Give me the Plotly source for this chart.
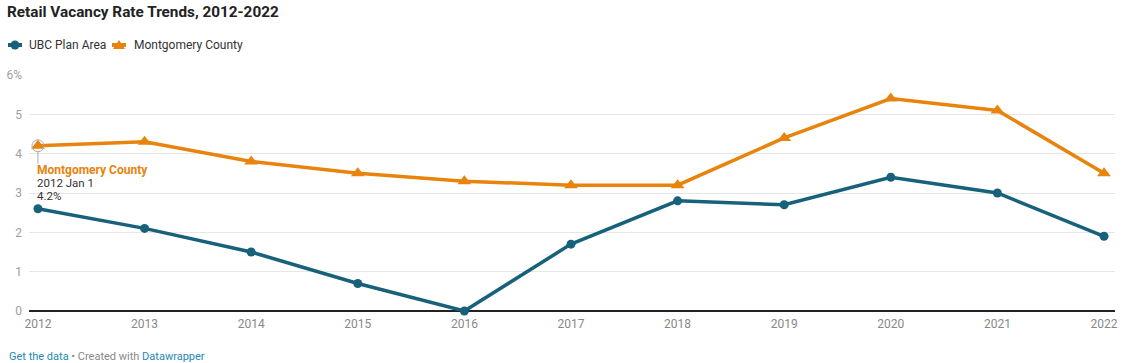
import plotly.graph_objects as go

years = [2012, 2013, 2014, 2015, 2016, 2017, 2018, 2019, 2020, 2021, 2022]
ubc = [2.6, 2.1, 1.5, 0.7, 0.0, 1.7, 2.8, 2.7, 3.4, 3.0, 1.9]
montgomery = [4.2, 4.3, 3.8, 3.5, 3.3, 3.2, 3.2, 4.4, 5.4, 5.1, 3.5]
y_ticks = [0, 1, 2, 3, 4, 5, 6]
y_ticktext = ["0", "1", "2", "3", "4", "5", "6%"]
series_names = ["UBC Plan Area", "Montgomery County"]

TEAL = "#18617a"
ORANGE = "#e8830c"
FONT = "Roboto"

W, H = 1127, 363
ML, MR, MT, MB = 29, 12, 75, 52
PW, PH = W - ML - MR, H - MT - MB


def px_x(px):
    return (px - ML) / PW


def px_y(py):
    return (H - MB - py) / PH


fig = go.Figure()
fig.add_trace(go.Scatter(
    x=years, y=ubc, name=series_names[0], mode="lines+markers",
    line=dict(color=TEAL, width=3.5), marker=dict(symbol="circle", size=9, color=TEAL),
    cliponaxis=False, showlegend=False,
))
fig.add_trace(go.Scatter(
    x=years, y=montgomery, name=series_names[1], mode="lines+markers",
    line=dict(color=ORANGE, width=3.5), marker=dict(symbol="triangle-up", size=12, color=ORANGE),
    cliponaxis=False, showlegend=False,
))

# highlight annotation on first Montgomery point
fig.add_trace(go.Scatter(
    x=[years[0]], y=[montgomery[0]], mode="markers", showlegend=False, hoverinfo="skip",
    marker=dict(symbol="circle-open", size=12, color="#aaaaaa", line=dict(width=1)),
    cliponaxis=False,
))
fig.add_shape(type="line", xref="x", yref="y", x0=years[0], x1=years[0],
              y0=montgomery[0] - 0.15, y1=montgomery[0] - 0.45,
              line=dict(color="#aaaaaa", width=1))
label_lines = [
    (f"<b>{series_names[1]}</b>", ORANGE, 12, -24),
    (f"{years[0]} Jan 1", "#333333", 11.5, -37),
    (f"{montgomery[0]}%", "#333333", 11.5, -50),
]
for txt, col, sz, ys in label_lines:
    fig.add_annotation(
        x=years[0], y=montgomery[0], xref="x", yref="y", xanchor="left", yanchor="middle",
        xshift=-3, yshift=ys, showarrow=False, align="left", text=txt,
        font=dict(family=FONT, size=sz, color=col),
    )

# custom legend (short line + marker glyph, then label)
legend_items = [
    (series_names[0], TEAL, "circle", 15, 27),
    (series_names[1], ORANGE, "triangle", 119, 132),
]
LEG_Y = 45
for name, col, sym, cx, tx in legend_items:
    ax, ay = px_x(cx), px_y(LEG_Y)
    fig.add_shape(type="line", xref="paper", yref="paper", xsizemode="pixel", ysizemode="pixel",
                  xanchor=ax, yanchor=ay, x0=-7, x1=7, y0=0, y1=0,
                  line=dict(color=col, width=4))
    if sym == "circle":
        fig.add_shape(type="circle", xref="paper", yref="paper", xsizemode="pixel", ysizemode="pixel",
                      xanchor=ax, yanchor=ay, x0=-4.5, x1=4.5, y0=-4.5, y1=4.5,
                      fillcolor=col, line=dict(color=col, width=0))
    else:
        fig.add_shape(type="path", xref="paper", yref="paper", xsizemode="pixel", ysizemode="pixel",
                      xanchor=ax, yanchor=ay, path="M -6,-4 L 6,-4 L 0,5 Z",
                      fillcolor=col, line=dict(color=col, width=0))
    fig.add_annotation(
        xref="paper", yref="paper", x=px_x(tx), y=px_y(LEG_Y), xanchor="left", yanchor="middle",
        showarrow=False, text=name, font=dict(family=FONT, size=12, color="#333333"),
    )

fig.add_annotation(
    xref="paper", yref="paper", x=px_x(7), y=px_y(356), xanchor="left", yanchor="middle",
    showarrow=False,
    text="<span style='color:#1d8ab5'>Get the data</span> • Created with "
         "<span style='color:#1d8ab5'>Datawrapper</span>",
    font=dict(family=FONT, size=11, color="#888888"),
)

fig.update_layout(
    width=W, height=H,
    margin=dict(l=ML, r=MR, t=MT, b=MB, autoexpand=False),
    paper_bgcolor="white", plot_bgcolor="white",
    font=dict(family=FONT, size=12, color="#888888"),
    title=dict(text="<b>Retail Vacancy Rate Trends, 2012-2022</b>",
               x=7 / W, xref="container", y=1 - 6 / H, yref="container", yanchor="top",
               font=dict(family=FONT, size=15.3, color="#222222")),
    showlegend=False,
    xaxis=dict(range=[2011.916, 2022.103], tickvals=years, ticktext=[str(y) for y in years],
               showgrid=False, zeroline=False, showline=False, ticks="", ticklabelstandoff=4,
               automargin=False,
               tickfont=dict(family=FONT, size=12, color="#888888"), fixedrange=True),
    yaxis=dict(range=[0, 6.0], tickvals=y_ticks, ticktext=y_ticktext,
               showgrid=True, gridcolor="#e6e6e6", gridwidth=1,
               zeroline=True, zerolinecolor="#222222", zerolinewidth=1.5,
               ticks="", ticklabelstandoff=6, automargin=False,
               tickfont=dict(family=FONT, size=12, color="#a0a0a0"), fixedrange=True),
    hovermode=False,
)

fig.write_html("out.html", config={"displayModeBar": False},
               post_script="document.body.style.margin='0';")
